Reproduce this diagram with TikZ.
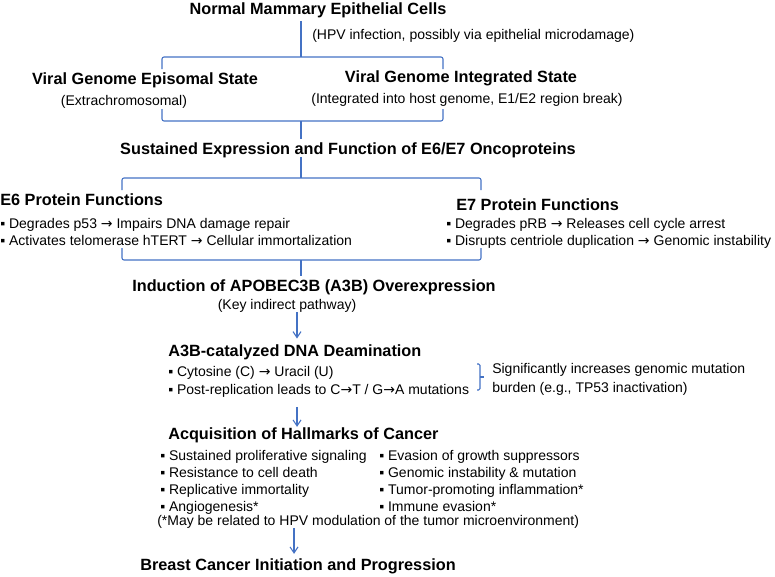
\documentclass[tikz,border=0pt]{standalone}
\usepackage{fontspec}
\setmainfont{Liberation Sans}
\newfontfamily\arrowfont{DejaVu Sans}
\newcommand{\arr}{{\arrowfont →}}
\usetikzlibrary{arrows.meta}
\definecolor{linkblue}{RGB}{68,114,196}
\tikzset{
  head/.style={font=\bfseries\fontsize{12.2}{14}\selectfont, inner sep=0pt, text height=0.72em, text depth=0.21em},
  note/.style={font=\fontsize{10.5}{12.75}\selectfont, inner sep=0pt, text height=0.72em, text depth=0.21em},
  list/.style={font=\fontsize{10.5}{12.75}\selectfont, inner sep=0pt, align=left, anchor=north west},
  link/.style={draw=linkblue, line width=0.8pt, rounded corners=1.5pt},
  flow/.style={draw=linkblue, line width=0.8pt, -{Straight Barb[length=4.5pt,width=6pt]}},
}
\begin{document}
\begin{tikzpicture}[x=0.75pt,y=-0.75pt]
  \useasboundingbox (0,0) rectangle (775,576);

  % Infection
  \node[head] (cells) at (318,11) {Normal Mammary Epithelial Cells};
  \node[note, anchor=west] (hpv) at (312,36) {(HPV infection, possibly via epithelial microdamage)};

  % Viral genome states
  \node[head] (episomal) at (145,81) {Viral Genome Episomal State};
  \node[note] (episomalnote) at (124,102) {(Extrachromosomal)};
  \node[head] (integrated) at (461,79) {Viral Genome Integrated State};
  \node[note] (integratednote) at (467,100) {(Integrated into host genome, E1/E2 region break)};

  \coordinate (b1l) at (162,69);
  \coordinate (b1m) at (301,57);
  \coordinate (b1r) at (443,69);
  \draw[link] ([yshift=-2.5pt]cells.south -| b1m) -- (b1m);
  \draw[link] (b1l) |- (b1m) -| (b1r);

  \coordinate (b2l) at (162,109);
  \coordinate (b2m) at (301,121);
  \coordinate (b2r) at (443,109);
  \draw[link] (b2l) |- (b2m) -| (b2r);

  % Oncoproteins
  \node[head] (sustained) at (348,151) {Sustained Expression and Function of E6/E7 Oncoproteins};
  \draw[link] (b2m) -- ([yshift=4pt]sustained.north -| b2m);

  \coordinate (b3l) at (122,190);
  \coordinate (b3m) at (301,178);
  \coordinate (b3r) at (481,190);
  \draw[link] (sustained.south -| b3m) -- (b3m);
  \draw[link] (b3l) |- (b3m) -| (b3r);

  \node[head, anchor=west] (esix) at (0,202) {E6 Protein Functions};
  \node[list] (esixlist) at (0,218) {▪ Degrades p53 \arr{} Impairs DNA damage repair\\▪ Activates telomerase hTERT \arr{} Cellular immortalization};
  \node[head, anchor=west] (eseven) at (456,207) {E7 Protein Functions};
  \node[list] (esevenlist) at (446,218) {▪ Degrades pRB \arr{} Releases cell cycle arrest\\▪ Disrupts centriole duplication \arr{} Genomic instability};

  \coordinate (b4l) at (122,248);
  \coordinate (b4m) at (301,260);
  \coordinate (b4r) at (481,248);
  \draw[link] (b4l) |- (b4m) -| (b4r);

  % APOBEC3B
  \node[head] (induction) at (314,288) {Induction of APOBEC3B (A3B) Overexpression};
  \node[note] (indirect) at (287,306) {(Key indirect pathway)};
  \draw[link] (b4m) -- ([yshift=4pt]induction.north -| b4m);

  \node[head, anchor=west] (deamination) at (168,353) {A3B-catalyzed DNA Deamination};
  \node[list, font=\fontsize{10.5}{13.5}\selectfont] (deamlist) at (168,366) {▪ Cytosine (C) \arr{} Uracil (U)\\▪ Post-replication leads to C\arr{}T / G\arr{}A mutations};
  \coordinate (ax) at (297,0);
  \draw[flow] (indirect.south -| ax) -- ([yshift=6pt]deamination.north -| ax);

  \coordinate (kt) at (477,364);
  \coordinate (kc) at (480,377);
  \coordinate (kp) at (484,377);
  \coordinate (kb) at (477,390);
  \draw[link, rounded corners=1pt] (kt) -| (kc) |- (kb);
  \draw[link] (kc) -- (kp);
  \node[list, font=\fontsize{10.5}{14.25}\selectfont] (burden) at (492,363) {Significantly increases genomic mutation\\burden (e.g., TP53 inactivation)};

  % Hallmarks
  \node[head, anchor=west] (hallmarks) at (168,436) {Acquisition of Hallmarks of Cancer};
  \draw[flow] ([yshift=-7pt]deamlist.south -| ax) -- ([yshift=2pt]hallmarks.north -| ax);
  \node[list] (hallleft) at (160,450) {▪ Sustained proliferative signaling\\▪ Resistance to cell death\\▪ Replicative immortality\\▪ Angiogenesis*};
  \node[list] (hallright) at (379,450) {▪ Evasion of growth suppressors\\▪ Genomic instability \& mutation\\▪ Tumor-promoting inflammation*\\▪ Immune evasion*};
  \node[note, anchor=west] (hallnote) at (157,522) {(*May be related to HPV modulation of the tumor microenvironment)};

  % Outcome
  \node[head, anchor=west] (breast) at (140,567) {Breast Cancer Initiation and Progression};
  \coordinate (ax2) at (294,0);
  \draw[flow] (hallnote.south -| ax2) -- ([yshift=5pt]breast.north -| ax2);
\end{tikzpicture}
\end{document}
